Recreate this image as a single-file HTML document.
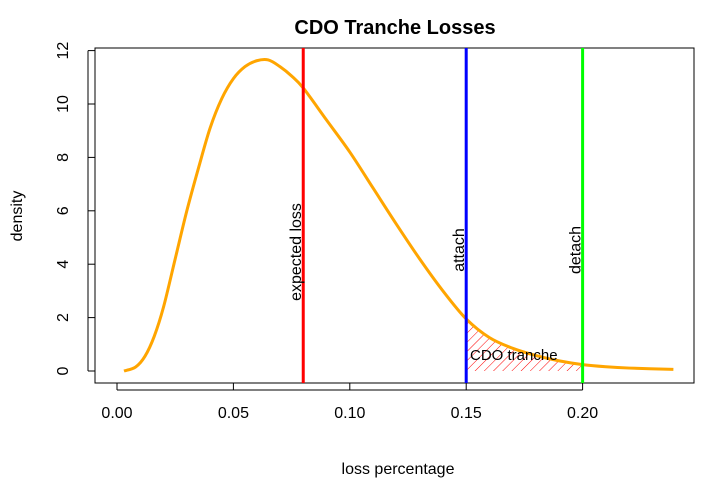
<!DOCTYPE html>
<html><head><meta charset="utf-8"><style>
body{margin:0;background:#fff}
svg{display:block;font-family:"Liberation Sans",Arial,sans-serif}
</style></head><body>
<svg id="c" width="720" height="480">
<defs>
<pattern id="hatch" patternUnits="userSpaceOnUse" width="6.5" height="6.5" patternTransform="rotate(45)">
<line x1="0" y1="0" x2="0" y2="6.5" stroke="#f00" stroke-width="1"/>
</pattern>
</defs>
<text x="395" y="34" text-anchor="middle" font-size="20" font-weight="bold">CDO Tranche Losses</text>
<text x="398" y="474" text-anchor="middle" font-size="16">loss percentage</text>
<text transform="translate(22,216) rotate(-90)" text-anchor="middle" font-size="16">density</text>
<rect x="95" y="48" width="599" height="335" fill="none" stroke="#000"/>
<g id="g"></g>
</svg>
<script>
const xs=[0.003,0.008,0.012,0.016,0.02,0.025,0.03,0.035,0.04,0.045,0.05,0.055,0.06,0.065,0.07,0.075,0.08,0.09,0.10,0.11,0.12,0.13,0.14,0.15,0.16,0.17,0.18,0.19,0.20,0.21,0.22,0.239];
const dens=[0,0.15,0.55,1.3,2.4,4.2,6.0,7.6,9.1,10.2,10.95,11.4,11.62,11.65,11.4,11.05,10.6,9.4,8.2,6.85,5.5,4.2,3.0,1.95,1.25,0.85,0.58,0.38,0.24,0.16,0.11,0.06];
const xTicks=[0,0.05,0.10,0.15,0.20];
const xTickLabels=["0.00","0.05","0.10","0.15","0.20"];
const yTicks=[0,2,4,6,8,10,12];
const markers=[0.08,0.15,0.20];
const markerLabels=["expected loss","attach","detach"];
const markerColors=["#f00","#00f","#0f0"];
const X=v=>117+v*2328, Y=v=>371-v*26.7;
const NS="http://www.w3.org/2000/svg", g=document.getElementById('g');
function mk(t,a){const e=document.createElementNS(NS,t);for(const k in a)e.setAttribute(k,a[k]);g.appendChild(e);return e;}
xTicks.forEach((t,i)=>{
 const l=mk('line',{x1:X(t),x2:X(t),y1:383,y2:390,stroke:'#000'});
 
 
 const tx=mk('text',{x:X(t),y:418,'text-anchor':'middle','font-size':16});tx.textContent=xTickLabels[i];
 
 
});
mk('line',{x1:X(0),x2:X(0.20),y1:390,y2:390,stroke:'#000'});
yTicks.forEach(t=>{
 const l=mk('line',{x1:88,x2:95,y1:Y(t),y2:Y(t),stroke:'#000'});
 
 
 const tx=mk('text',{transform:`translate(68,${Y(t)}) rotate(-90)`,'text-anchor':'middle','font-size':16});tx.textContent=t;
 
 
});
mk('line',{x1:88,x2:88,y1:Y(0),y2:Y(12),stroke:'#000'});
function interp(v){for(let i=0;i<xs.length-1;i++)if(v>=xs[i]&&v<=xs[i+1]){const f=(v-xs[i])/(xs[i+1]-xs[i]);return dens[i]+f*(dens[i+1]-dens[i]);}return 0;}
const a=markers[1],b=markers[2];
let pts=[[X(a),Y(0)],[X(a),Y(interp(a))]];
xs.forEach((v,i)=>{if(v>a&&v<b)pts.push([X(v),Y(dens[i])]);});
pts.push([X(b),Y(interp(b))],[X(b),Y(0)]);
const poly=mk('polygon',{points:pts.map(p=>p.join(',')).join(' '),fill:'url(#hatch)',stroke:'none'});


let d='M'+X(xs[0])+','+Y(dens[0]);
for(let i=0;i<xs.length-1;i++){
 const p0=[X(xs[Math.max(i-1,0)]),Y(dens[Math.max(i-1,0)])],p1=[X(xs[i]),Y(dens[i])],p2=[X(xs[i+1]),Y(dens[i+1])],p3=[X(xs[Math.min(i+2,xs.length-1)]),Y(dens[Math.min(i+2,xs.length-1)])];
 d+=` C${p1[0]+(p2[0]-p0[0])/6},${p1[1]+(p2[1]-p0[1])/6} ${p2[0]-(p3[0]-p1[0])/6},${p2[1]-(p3[1]-p1[1])/6} ${p2[0]},${p2[1]}`;
}
const c=mk('path',{d:d,fill:'none',stroke:'#ffa500','stroke-width':3});


markers.forEach((m,i)=>{
 const l=mk('line',{x1:X(m),x2:X(m),y1:48,y2:383,stroke:markerColors[i],'stroke-width':3});
 
 
 const tx=mk('text',{transform:`translate(${X(m)-2},${i==0?252:250}) rotate(-90)`,'text-anchor':'middle','font-size':16});tx.textContent=markerLabels[i];
 
 
});
const ct=mk('text',{x:470,y:360,'font-size':15});ct.textContent='CDO tranche';


</script>
</body></html>
